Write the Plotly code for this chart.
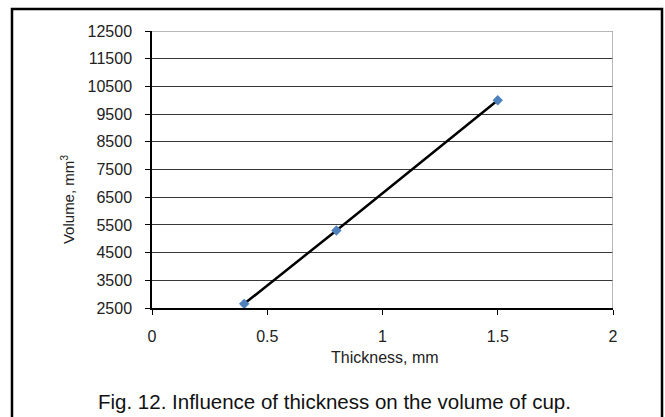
import plotly.graph_objects as go

thickness = [0.4, 0.8, 1.5]
volume = [2650, 5300, 10000]
x_ticks = [0, 0.5, 1, 1.5, 2]
x_tick_labels = ["0", "0.5", "1", "1.5", "2"]
y_ticks = [2500, 3500, 4500, 5500, 6500, 7500, 8500, 9500, 10500, 11500, 12500]
y_tick_labels = [str(v) for v in y_ticks]

FONT = "Liberation Sans, Arial, sans-serif"

fig = go.Figure()
fig.add_trace(go.Scatter(
    x=thickness, y=volume, mode="lines+markers",
    line=dict(color="black", width=2.5),
    marker=dict(symbol="diamond", size=8, color="#4F81BD"),
    showlegend=False,
))

fig.update_layout(
    width=665, height=417,
    margin=dict(l=152, r=52, t=31, b=109),
    paper_bgcolor="white", plot_bgcolor="white",
    font=dict(family=FONT, size=12, color="black"),
    xaxis=dict(
        range=[0, 2], tickvals=x_ticks, ticktext=x_tick_labels,
        showgrid=False, zeroline=False,
        showline=True, linecolor="black", linewidth=1.5,
        ticks="outside", ticklen=5, tickcolor="black",
        ticklabelstandoff=8,
        tickfont=dict(family=FONT, size=16, color="#222"),
    ),
    yaxis=dict(
        range=[2500, 12500], tickvals=y_ticks, ticktext=y_tick_labels,
        showgrid=True, gridcolor="#383838", gridwidth=1.3,
        zeroline=False,
        showline=True, linecolor="black", linewidth=1.5,
        ticks="outside", ticklen=5, tickcolor="black",
        ticklabelstandoff=10,
        tickfont=dict(family=FONT, size=16, color="#222"),
    ),
    shapes=[
        dict(type="line", xref="x", yref="y", x0=0, x1=2, y0=12500, y1=12500,
             line=dict(color="#A0A0A0", width=1.5), layer="above"),
        dict(type="line", xref="x", yref="y", x0=2, x1=2, y0=2500, y1=12500,
             line=dict(color="#A0A0A0", width=1.5), layer="above"),
        dict(type="rect", xref="paper", yref="paper",
             x0=-0.3037, x1=1.1063, y0=-0.42, y1=1.0794,
             line=dict(color="black", width=2.5), layer="below"),
    ],
    annotations=[
        dict(text="Thickness, mm", xref="paper", yref="paper", x=0.505, y=-0.178,
             showarrow=False, font=dict(family=FONT, size=16, color="#222"),
             xanchor="center", yanchor="middle"),
        dict(text="Volume, mm<sup>3</sup>", xref="paper", yref="paper", x=-0.182, y=0.39,
             showarrow=False, textangle=-90, font=dict(family=FONT, size=15, color="#222"),
             xanchor="center", yanchor="middle"),
        dict(text="Fig. 12. Influence of thickness on the volume of cup.",
             xref="paper", yref="paper", x=0.395, y=-0.339,
             showarrow=False, font=dict(family=FONT, size=20.5, color="#111"),
             xanchor="center", yanchor="middle"),
    ],
)

fig.write_html("out.html", config={"displayModeBar": False},
               post_script="document.body.style.margin='0px';")
